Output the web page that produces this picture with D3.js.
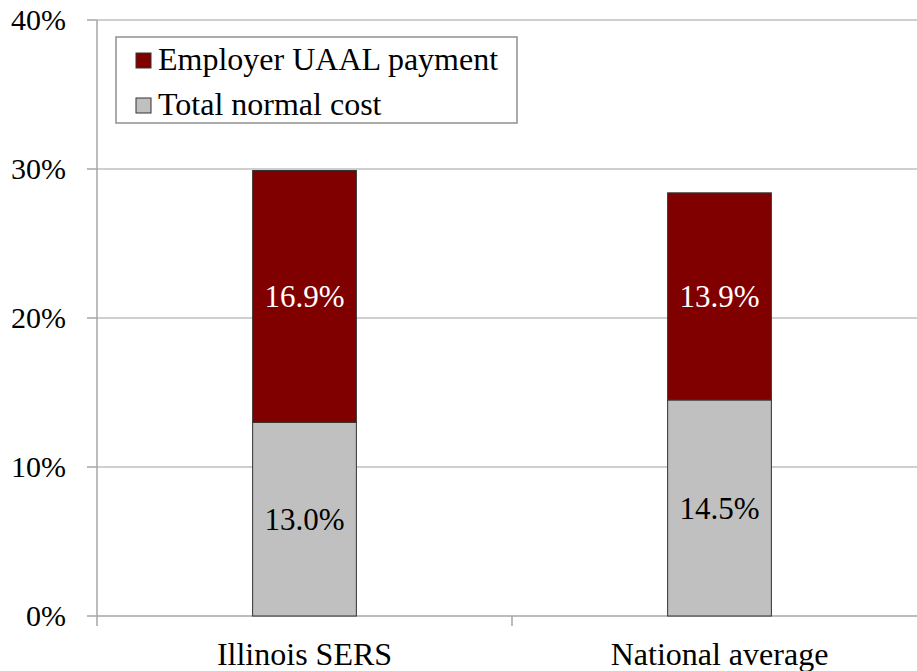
<!DOCTYPE html>
<html>
<head>
<meta charset="utf-8">
<script src="https://cdn.jsdelivr.net/npm/d3@7"></script>
<style>
  body { margin: 0; background: #fff; }
  svg text { font-family: 'Liberation Serif', Tinos, monospace !important; }
</style>
</head>
<body>
<div id="chart"></div>
<script>
// data
var categories = ["Illinois SERS", "National average"];
var normalCost = [13.0, 14.5];
var uaalPayment = [16.9, 13.9];
var yTicks = [0, 10, 20, 30, 40];
var seriesNames = ["Employer UAAL payment", "Total normal cost"];
var seriesColors = ["#800000", "#c0c0c0"];

var FONT = "'Liberation Serif', Tinos, monospace";
var W = 917, H = 671;
var margin = {top: 20, right: -10, bottom: 55, left: 97};

var svg = d3.select("#chart").append("svg")
    .attr("width", W).attr("height", H);

function label(sel, size) {
    return sel.attr("font-family", FONT).style("font-size", size + "px");
}

var x = d3.scaleBand()
    .domain(categories)
    .range([margin.left, W - margin.right])
    .paddingInner(0.75).paddingOuter(0.375);

var y = d3.scaleLinear()
    .domain([0, 40])
    .range([H - margin.bottom, margin.top]);

// gridlines
svg.append("g").selectAll("line")
    .data(yTicks.filter(function (d) { return d > 0; }))
    .enter().append("line")
    .attr("x1", margin.left).attr("x2", W)
    .attr("y1", function (d) { return y(d); })
    .attr("y2", function (d) { return y(d); })
    .attr("stroke", "#bfbfbf").attr("stroke-width", 1.5);

// y axis, drawn by hand from the scale
svg.append("line")
    .attr("x1", margin.left).attr("x2", margin.left)
    .attr("y1", y(40)).attr("y2", y(0))
    .attr("stroke", "#a6a6a6").attr("stroke-width", 1.5);
svg.append("g").selectAll("line")
    .data(yTicks)
    .enter().append("line")
    .attr("x1", margin.left - 10).attr("x2", margin.left)
    .attr("y1", function (d) { return y(d); })
    .attr("y2", function (d) { return y(d); })
    .attr("stroke", "#a6a6a6").attr("stroke-width", 1.5);
svg.selectAll("text.ylab")
    .data(yTicks)
    .enter().append("text")
    .attr("class", "ylab")
    .attr("x", margin.left - 31)
    .attr("y", function (d) { return y(d); })
    .attr("dy", "0.33em")
    .attr("text-anchor", "end")
    .attr("fill", "#000")
    .call(label, 30)
    .text(function (d) { return d + "%"; });

// x axis (category boundaries as ticks)
var step = x.step();
var bounds = [0, 1, 2];
svg.append("line")
    .attr("x1", margin.left).attr("x2", W)
    .attr("y1", y(0)).attr("y2", y(0))
    .attr("stroke", "#a6a6a6").attr("stroke-width", 1.5);
svg.append("g").selectAll("line")
    .data(bounds)
    .enter().append("line")
    .attr("x1", function (d) { return margin.left + d * step; })
    .attr("x2", function (d) { return margin.left + d * step; })
    .attr("y1", y(0)).attr("y2", y(0) + 10)
    .attr("stroke", "#a6a6a6").attr("stroke-width", 1.5);

svg.selectAll("text.xlab")
    .data(categories)
    .enter().append("text")
    .attr("class", "xlab")
    .attr("x", function (d) { return x(d) + x.bandwidth() / 2; })
    .attr("y", H - 6)
    .attr("text-anchor", "middle")
    .call(label, 32)
    .text(function (d) { return d; });

// stacked bars
var rows = categories.map(function (c, i) {
    return {cat: c, normal: normalCost[i], uaal: uaalPayment[i]};
});
var stack = d3.stack().keys(["normal", "uaal"])(rows);
var colorFor = {normal: seriesColors[1], uaal: seriesColors[0]};
var textFor = {normal: "#000", uaal: "#fff"};
var segs = [];
stack.forEach(function (s) {
    s.forEach(function (d) { d.key = s.key; segs.push(d); });
});

svg.append("g").selectAll("rect")
    .data(segs)
    .enter().append("rect")
    .attr("x", function (d) { return x(d.data.cat); })
    .attr("width", x.bandwidth())
    .attr("y", function (d) { return y(d[1]); })
    .attr("height", function (d) { return y(d[0]) - y(d[1]); })
    .attr("fill", function (d) { return colorFor[d.key]; })
    .attr("stroke", "#333").attr("stroke-width", 1);

svg.selectAll("text.val")
    .data(segs)
    .enter().append("text")
    .attr("class", "val")
    .attr("x", function (d) { return x(d.data.cat) + x.bandwidth() / 2; })
    .attr("y", function (d) { return (y(d[0]) + y(d[1])) / 2; })
    .attr("dy", "0.34em")
    .attr("text-anchor", "middle")
    .attr("fill", function (d) { return textFor[d.key]; })
    .call(label, 31)
    .text(function (d) { return (d[1] - d[0]).toFixed(1) + "%"; });

// legend
var lx = 116, ly = 37;
svg.append("rect")
    .attr("x", lx).attr("y", ly)
    .attr("width", 401).attr("height", 86)
    .attr("fill", "#fff").attr("stroke", "#909090").attr("stroke-width", 1.5);
svg.selectAll("rect.sw")
    .data(seriesNames)
    .enter().append("rect")
    .attr("class", "sw")
    .attr("x", lx + 20)
    .attr("y", function (d, i) { return ly + 16 + i * 45; })
    .attr("width", 15).attr("height", 15)
    .attr("fill", function (d, i) { return seriesColors[i]; })
    .attr("stroke", "#333").attr("stroke-width", 1);
svg.selectAll("text.lg")
    .data(seriesNames)
    .enter().append("text")
    .attr("class", "lg")
    .attr("x", lx + 42)
    .attr("y", function (d, i) { return ly + 33 + i * 45; })
    .call(label, 32)
    .text(function (d) { return d; });
</script>
</body>
</html>
